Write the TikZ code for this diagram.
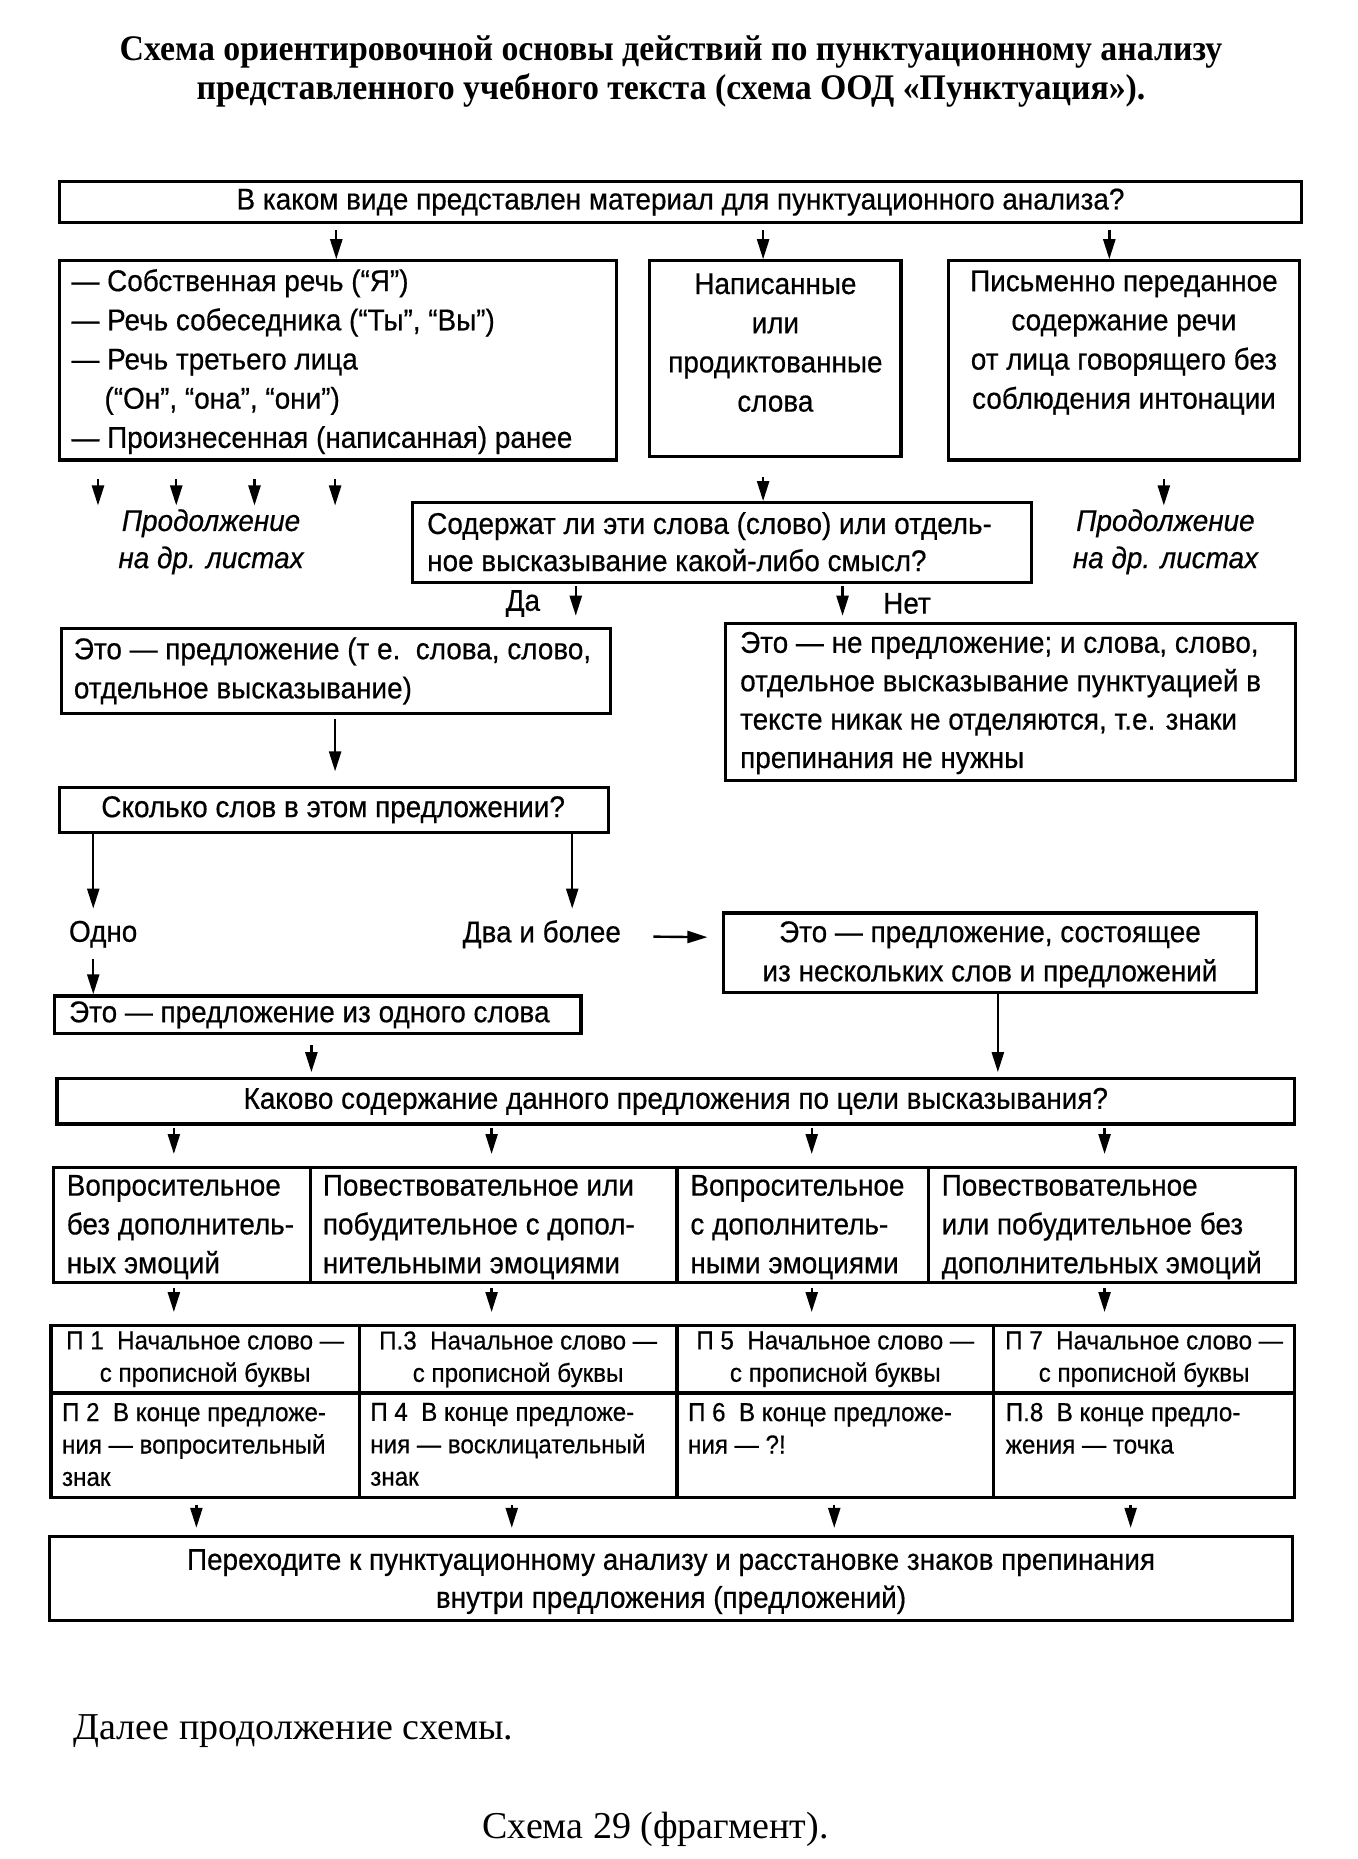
\documentclass[tikz,border=0pt]{standalone}
\usepackage{fontspec}
\setmainfont{Liberation Serif}
\newfontfamily\nar[FakeStretch=0.93,FakeBold=0.5]{Liberation Sans}
\newfontfamily\ttlfont[FakeStretch=0.94]{Liberation Serif}
\usetikzlibrary{fit,calc,arrows.meta}
\begin{document}
\begin{tikzpicture}[x=0.593pt,y=-0.593pt,
  box/.style={draw,line width=1.6pt,inner sep=0pt},
  txt/.style={font=\nar\fontsize{15}{19.6}\selectfont,inner sep=0pt,align=center},
  ltxt/.style={txt,align=left,anchor=west},
  stxt/.style={font=\nar\fontsize{13}{16.2}\selectfont,inner sep=0pt,align=center},
  sltxt/.style={stxt,align=left,anchor=north west},
  arr/.style={line width=1.2pt,-{Triangle[length=10pt,width=6pt]}}]
\fill[white] (0,0) rectangle (1145,1568);
\useasboundingbox (0,0) rectangle (1145,1568);

% title
\node[font=\ttlfont\bfseries\fontsize{18}{19.6}\selectfont,align=center,inner sep=0pt] (title) at (566,60)
  {Схема ориентировочной основы действий по пунктуационному анализу\\
   представленного учебного текста (схема ООД «Пунктуация»).};

% top question
\node[box,fit={(50,153)(1098,188)}] (top) {};
\node[txt] (topt) at (top.center) {В каком виде представлен материал для пунктуационного анализа?};

% row 2
\node[box,fit={(50,220)(520,388)}] (A) {};
\node[ltxt] (At) at (60,305) {— Собственная речь (“Я”)\\— Речь собеседника (“Ты”, “Вы”)\\— Речь третьего лица\\\hspace*{1.1em}(“Он”, “она”, “они”)\\— Произнесенная (написанная) ранее};
\node[box,fit={(548,220)(760,385)}] (B) {};
\node[txt] (Bt) at (654,289) {Написанные\\или\\продиктованные\\слова};
\node[box,fit={(800,220)(1096,388)}] (C) {};
\node[txt] (Ct) at (948,289) {Письменно переданное\\содержание речи\\от лица говорящего без\\соблюдения интонации};

\draw[arr] ($(top.south west)+(235,5)$) -- ($(A.north west)+(235,0)$);
\draw[arr] ($(top.south west)+(595,5)$) -- ($(B.north west)+(97,0)$);
\draw[arr] ($(top.south west)+(887,5)$) -- ($(C.north west)+(137,0)$);

% continuation labels
\node[txt,font=\nar\itshape\fontsize{15}{18.6}\selectfont] (contL) at (178,457) {Продолжение\\на др. листах};
\node[txt,font=\nar\itshape\fontsize{15}{18.6}\selectfont] (contR) at (983,457) {Продолжение\\на др. листах};
\foreach \dx in {34,100,166,234}
  \draw[arr] ($(A.south west)+(\dx,15)$) -- ($(A.south west)+(\dx,37)$);
\draw[arr] ($(C.south west)+(183,15)$) -- ($(C.south west)+(183,37)$);

% meaning question
\node[box,fit={(348,424)(870,491)}] (Q) {};
\node[ltxt,font=\nar\fontsize{15}{18.6}\selectfont] (Qt) at (360,457) {Содержат ли эти слова (слово) или отдель-\\ное высказывание какой-либо смысл?};
\draw[arr] ($(B.south west)+(97,16)$) -- ($(Q.north west)+(297,0)$);

\draw[arr] ($(Q.south west)+(139,2)$) coordinate (daS) -- ($(Q.south west)+(139,27)$) coordinate (daE);
\draw[arr] ($(Q.south west)+(364,2)$) coordinate (netS) -- ($(Q.south west)+(364,27)$) coordinate (netE);
\node[txt] (da) at (441,509) {Да};
\node[txt] (net) at (765,509) {Нет};

\node[box,fit={(52,530)(515,602)}] (yes) {};
\node[ltxt] (yest) at (62,566) {Это — предложение (т е.\ \ слова, слово,\\отдельное высказывание)};
\node[box,fit={(612,526)(1093,658)}] (no) {};
\node[ltxt,font=\nar\fontsize{15}{19.2}\selectfont] (not) at (624,593) {Это — не предложение; и слова, слово,\\отдельное высказывание пунктуацией в\\тексте никак не отделяются, т.е. знаки\\препинания не нужны};

% how many words
\node[box,fit={(50,664)(513,702)}] (cnt) {};
\node[txt] (cntt) at (281,683) {Сколько слов в этом предложении?};
\draw[arr] ($(yes.south west)+(232,3)$) -- ($(cnt.north west)+(234,-12)$);
\draw[arr] ($(cnt.south west)+(30,0)$) -- ($(cnt.south west)+(30,63)$);
\draw[arr] ($(cnt.south west)+(434,0)$) -- ($(cnt.south west)+(434,63)$);

\node[txt] (odno) at (87,788) {Одно};
\node[txt] (dva) at (457,788) {Два и более};
\node[box,fit={(610,770)(1060,837)}] (sev) {};
\node[txt] (sevt) at (835,805) {Это — предложение, состоящее\\из нескольких слов и предложений};
\draw[arr] ($(dva.east)+(27,2)$) -- ($(sev.west)+(-12,-13)$);

\node[box,fit={(46,840)(490,872)}] (one) {};
\node[ltxt] (onet) at (58,856) {Это — предложение из одного слова};
\draw[arr] ($(one.north west)+(34,-30)$) -- ($(one.north west)+(34,0)$);

% goal question
\node[box,fit={(48,910)(1092,948)}] (goal) {};
\node[txt] (goalt) at (570,929) {Каково содержание данного предложения по цели высказывания?};
\draw[arr] ($(one.south west)+(218,8)$) -- ($(one.south west)+(218,31)$);
\draw[arr] ($(sev.south west)+(233,0)$) -- ($(sev.south west)+(233,66)$);

% four kinds
\node[box,fit={(45,985)(262,1082)}] (k1) {};
\node[box,fit={(262,985)(571,1082)}] (k2) {};
\node[box,fit={(571,985)(783,1082)}] (k3) {};
\node[box,fit={(783,985)(1093,1082)}] (k4) {};
\node[ltxt,font=\nar\fontsize{15}{19.4}\selectfont] (k1t) at (56,1035) {Вопросительное\\без дополнитель-\\ных эмоций};
\node[ltxt,font=\nar\fontsize{15}{19.4}\selectfont] (k2t) at (272,1035) {Повествовательное или\\побудительное с допол-\\нительными эмоциями};
\node[ltxt,font=\nar\fontsize{15}{19.4}\selectfont] (k3t) at (582,1035) {Вопросительное\\с дополнитель-\\ными эмоциями};
\node[ltxt,font=\nar\fontsize{15}{19.4}\selectfont] (k4t) at (794,1035) {Повествовательное\\или побудительное без\\дополнительных эмоций};
\foreach \dx in {100,368,638,885}
  \draw[arr] ($(goal.south west)+(\dx,2)$) -- ($(goal.south west)+(\dx,24)$);

% rules table
\node[box,fit={(43,1118)(303,1175)}] (p1) {};
\node[box,fit={(303,1118)(571,1175)}] (p3) {};
\node[box,fit={(571,1118)(838,1175)}] (p5) {};
\node[box,fit={(838,1118)(1092,1175)}] (p7) {};
\node[box,fit={(43,1175)(303,1263)}] (p2) {};
\node[box,fit={(303,1175)(571,1263)}] (p4) {};
\node[box,fit={(571,1175)(838,1263)}] (p6) {};
\node[box,fit={(838,1175)(1092,1263)}] (p8) {};
\node[stxt] (p1t) at (p1.center) {П 1\ \ Начальное слово —\\с прописной буквы};
\node[stxt] (p3t) at (p3.center) {П.3\ \ Начальное слово —\\с прописной буквы};
\node[stxt] (p5t) at (p5.center) {П 5\ \ Начальное слово —\\с прописной буквы};
\node[stxt] (p7t) at (p7.center) {П 7\ \ Начальное слово —\\с прописной буквы};
\node[sltxt] (p2t) at (52,1183) {П 2\ \ В конце предложе-\\ния — вопросительный\\знак};
\node[sltxt] (p4t) at (312,1183) {П 4\ \ В конце предложе-\\ния — восклицательный\\знак};
\node[sltxt] (p6t) at (580,1183) {П 6\ \ В конце предложе-\\ния — ?!};
\node[sltxt] (p8t) at (848,1183) {П.8\ \ В конце предло-\\жения — точка};
\draw[arr] ($(k1.south west)+(103,3)$) -- ($(p1.north west)+(105,-10)$);
\draw[arr] ($(k2.south west)+(154,3)$) -- ($(p3.north west)+(113,-10)$);
\draw[arr] ($(k3.south west)+(115,3)$) -- ($(p5.north west)+(115,-10)$);
\draw[arr] ($(k4.south west)+(150,3)$) -- ($(p7.north west)+(95,-10)$);

% final
\node[box,fit={(42,1296)(1090,1367)}] (fin) {};
\node[txt,font=\nar\fontsize{15}{19}\selectfont] (fint) at (566,1334) {Переходите к пунктуационному анализу и расстановке знаков препинания\\внутри предложения (предложений)};
\draw[arr] ($(p2.south west)+(124,5)$) -- ($(fin.north west)+(125,-6)$);
\draw[arr] ($(p4.south west)+(130,5)$) -- ($(fin.north west)+(391,-6)$);
\draw[arr] ($(p6.south west)+(134,5)$) -- ($(fin.north west)+(663,-6)$);
\draw[arr] ($(p8.south west)+(117,5)$) -- ($(fin.north west)+(913,-6)$);

% captions
\node[font=\fontsize{19}{22}\selectfont,anchor=west,inner sep=0pt] (further) at (62,1460) {Далее продолжение схемы.};
\node[font=\fontsize{19}{22}\selectfont,inner sep=0pt] (caption) at (553,1543) {Схема 29 (фрагмент).};
\end{tikzpicture}
\end{document}
